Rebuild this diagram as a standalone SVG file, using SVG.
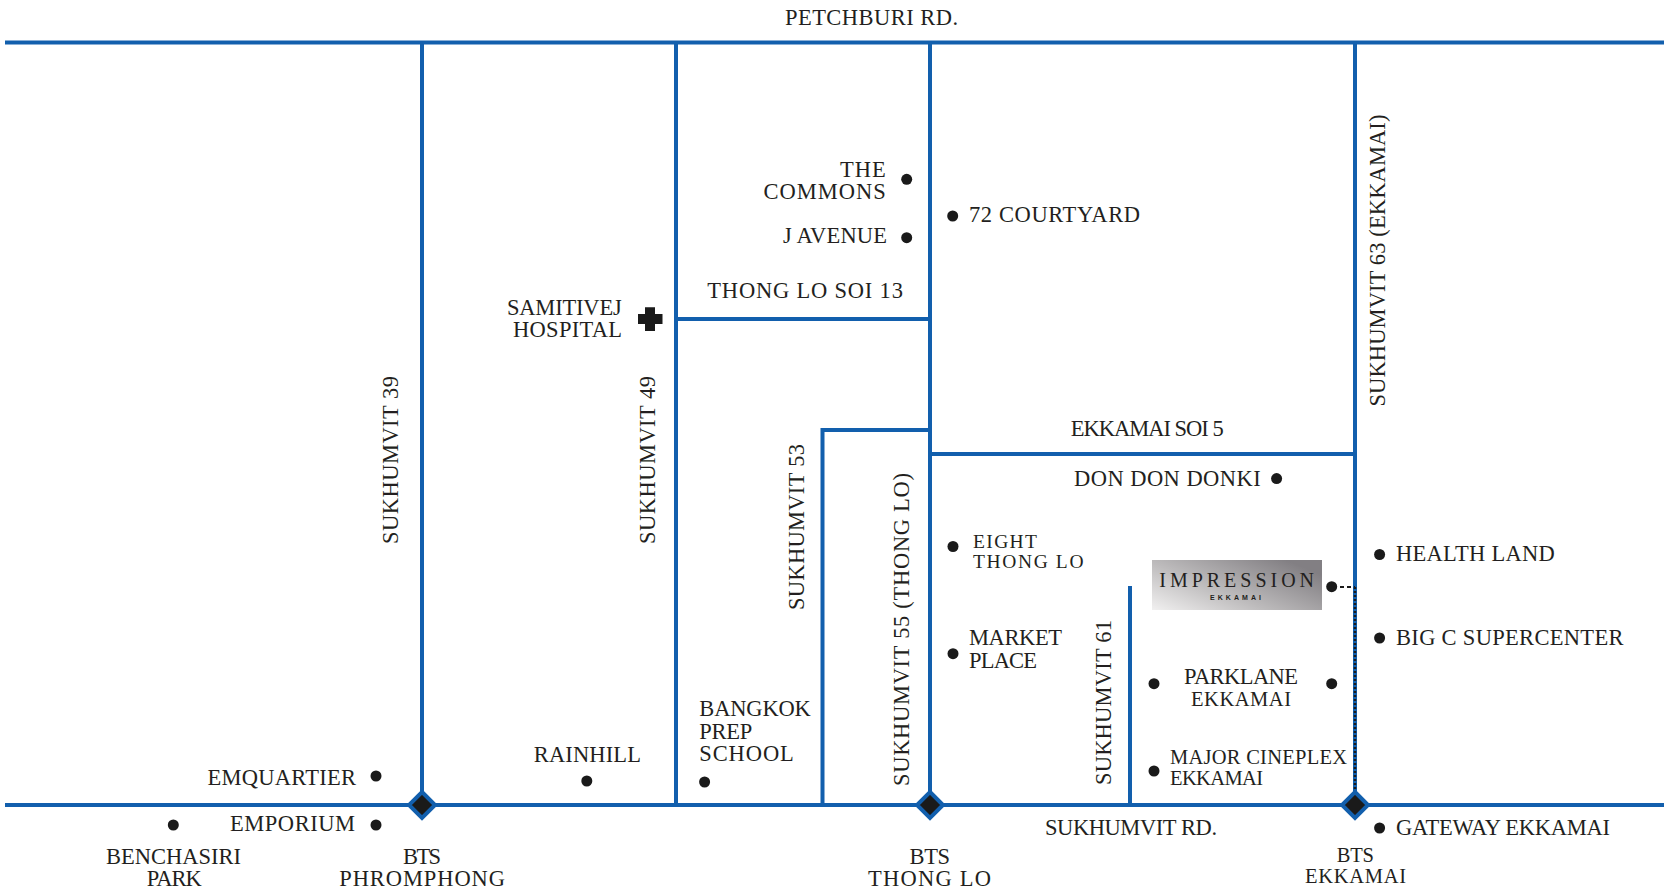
<svg xmlns="http://www.w3.org/2000/svg" width="1664" height="892" viewBox="0 0 1664 892">
<style>
text{font-family:"Liberation Serif","Times New Roman",serif;font-size:22.5px;fill:#231f20}
text.sm{font-size:19.5px}
text.md{font-size:20.5px}
.road{fill:none;stroke:#125fad;stroke-width:4}
.dot{fill:#1a1a1a}
.st{fill:#1a1a1a;stroke:#125fad;stroke-width:4;stroke-linejoin:miter}
</style>
<defs>
<linearGradient id="g" x1="0" y1="1" x2="1" y2="0.3"><stop offset="0" stop-color="#f1f0f0"/><stop offset="0.45" stop-color="#bdbbbc"/><stop offset="1" stop-color="#827f83"/></linearGradient>
</defs>
<rect width="1664" height="892" fill="#fff"/>
<g id="connectors">
<path class="road" d="M5 42.500H1664M5 805H1664M422 42V805M676 42V805M930 42V805M1355 42V805M676 319H930M930 454H1355M930 430H822.500V805M1130 586V805"/>
<path d="M1355 587V795" fill="none" stroke="#1a1a1a" stroke-width="2.500" stroke-dasharray="2 2"/>
<path d="M1340 587H1355" fill="none" stroke="#1a1a1a" stroke-width="2" stroke-dasharray="4 3"/>
</g>
<g id="road-labels">
<text x="785" y="24.500" textLength="173">PETCHBURI RD.</text>
<text transform="translate(398 544) rotate(-90)" textLength="168">SUKHUMVIT 39</text>
<text transform="translate(654.500 544) rotate(-90)" textLength="168">SUKHUMVIT 49</text>
<text transform="translate(803.500 610) rotate(-90)" textLength="166">SUKHUMVIT 53</text>
<text transform="translate(908.500 786) rotate(-90)" textLength="313">SUKHUMVIT 55 (THONG LO)</text>
<text transform="translate(1110.700 785) rotate(-90)" textLength="165">SUKHUMVIT 61</text>
<text transform="translate(1385 406.500) rotate(-90)" textLength="292">SUKHUMVIT 63 (EKKAMAI)</text>
<text x="707.300" y="297.700" textLength="195.600">THONG LO SOI 13</text>
<text x="1070.700" y="436" textLength="153">EKKAMAI SOI 5</text>
<text x="1045" y="835" textLength="172">SUKHUMVIT RD.</text>
</g>
<g id="bts-phromphong"><path class="st" d="M422 792L435 805L422 818L409 805Z"/><text x="403" y="864" textLength="38">BTS</text><text x="339.300" y="886" textLength="165.700">PHROMPHONG</text></g>
<g id="bts-thonglo"><path class="st" d="M930 792L943 805L930 818L917 805Z"/><text x="909.500" y="864" textLength="40.500">BTS</text><text x="868" y="886" textLength="123">THONG LO</text></g>
<g id="bts-ekkamai"><path class="st" d="M1355 792L1368 805L1355 818L1342 805Z"/><text class="md" x="1336.700" y="861.700" textLength="37.300">BTS</text><text class="md" x="1305" y="883" textLength="101">EKKAMAI</text></g>
<g id="the-commons"><circle class="dot" cx="906.700" cy="179.300" r="5.500"/><text x="840" y="177" textLength="45.700">THE</text><text x="763.500" y="199" textLength="122.200">COMMONS</text></g>
<g id="j-avenue"><circle class="dot" cx="906.700" cy="237.700" r="5.500"/><text x="783" y="243" textLength="104">J AVENUE</text></g>
<g id="courtyard"><circle class="dot" cx="952.700" cy="216" r="5.500"/><text x="969" y="222" textLength="171">72 COURTYARD</text></g>
<g id="samitivej"><path class="dot" d="M645 307.300H655V314H662.500V324H655V331H645V324H638V314H645Z"/><text x="507" y="315" textLength="114.700">SAMITIVEJ</text><text x="513" y="336.700" textLength="109">HOSPITAL</text></g>
<g id="don-don-donki"><circle class="dot" cx="1276.600" cy="478.600" r="5.500"/><text x="1074" y="485.500" textLength="186.700">DON DON DONKI</text></g>
<g id="eight-thong-lo"><circle class="dot" cx="953" cy="546.500" r="5.500"/><text class="sm" x="973" y="547.600" textLength="64">EIGHT</text><text class="sm" x="973" y="567.700" textLength="110.500">THONG LO</text></g>
<g id="market-place"><circle class="dot" cx="953" cy="653.700" r="5.500"/><text x="969" y="645" textLength="93">MARKET</text><text x="969" y="667.500" textLength="68">PLACE</text></g>
<g id="impression"><rect x="1152" y="560" width="170" height="50" fill="url(#g)"/><text x="1159.300" y="586.700" textLength="154.700" style="font-size:20px">IMPRESSION</text><text x="1210" y="599.500" textLength="51" style="font-family:'Liberation Sans',sans-serif;font-size:7px;font-weight:bold">EKKAMAI</text><circle class="dot" cx="1331.700" cy="586.700" r="5.500"/></g>
<g id="parklane"><circle class="dot" cx="1154" cy="683.700" r="5.500"/><circle class="dot" cx="1331.700" cy="683.700" r="5.500"/><text x="1184" y="684" textLength="114">PARKLANE</text><text class="md" x="1191" y="706" textLength="100">EKKAMAI</text></g>
<g id="major-cineplex"><circle class="dot" cx="1154" cy="771" r="5.500"/><text class="md" x="1170" y="764" textLength="177">MAJOR CINEPLEX</text><text class="md" x="1170" y="785" textLength="93">EKKAMAI</text></g>
<g id="emquartier"><circle class="dot" cx="376" cy="776" r="5.500"/><text x="207.500" y="784.500" textLength="148.500">EMQUARTIER</text></g>
<g id="emporium"><circle class="dot" cx="376" cy="825" r="5.500"/><text x="230" y="831" textLength="125">EMPORIUM</text></g>
<g id="benchasiri"><circle class="dot" cx="173.300" cy="825" r="5.500"/><text x="106" y="864" textLength="135">BENCHASIRI</text><text x="146.700" y="886" textLength="55">PARK</text></g>
<g id="rainhill"><circle class="dot" cx="586.800" cy="781" r="5.500"/><text x="533.800" y="762" textLength="107.200">RAINHILL</text></g>
<g id="bangkok-prep"><circle class="dot" cx="704.600" cy="782" r="5.500"/><text x="699.300" y="716" textLength="111.500">BANGKOK</text><text x="699.300" y="738.500" textLength="53">PREP</text><text x="699.300" y="761" textLength="94.500">SCHOOL</text></g>
<g id="health-land"><circle class="dot" cx="1379.600" cy="554.500" r="5.500"/><text x="1396" y="560.500" textLength="158.700">HEALTH LAND</text></g>
<g id="big-c"><circle class="dot" cx="1379.600" cy="638" r="5.500"/><text x="1396" y="645" textLength="227.500">BIG C SUPERCENTER</text></g>
<g id="gateway"><circle class="dot" cx="1379.600" cy="828" r="5.500"/><text x="1396" y="835" textLength="214">GATEWAY EKKAMAI</text></g>
</svg>
